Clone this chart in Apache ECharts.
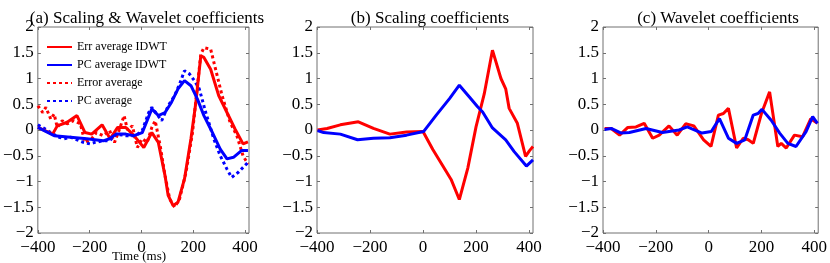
<!DOCTYPE html>
<html>
<head>
<meta charset="utf-8">
<script src="https://cdn.jsdelivr.net/npm/echarts@6/dist/echarts.min.js"></script>
<style>html,body{margin:0;padding:0;background:#fff}#c{width:830px;height:263px}</style>
</head>
<body>
<div id="c"></div>
<script>
// ---------- DATA ----------
const titles = ['(a) Scaling & Wavelet coefficients', '(b) Scaling coefficients', '(c) Wavelet coefficients'];
const legendNames = ['Err average IDWT', 'PC average IDWT', 'Error average', 'PC average'];
const xTicks = [-400, -200, 0, 200, 400];
const yTicks = [-2, -1.5, -1, -0.5, 0, 0.5, 1, 1.5, 2];
const xLabel = 'Time (ms)';

// Panel (a)
const aErrIdwtT = [-400,-343,-325,-287,-249,-218,-192,-152,-121,-92,-60,-29,9,40,65,91,103,122,141,166,191,210,229,241,267,298,330,361,392,411];
const aErrIdwtV = [0.05,-0.08,0.08,0.15,0.28,-0.05,-0.08,0.1,-0.17,0.05,0.05,-0.11,-0.34,-0.05,-0.24,-0.89,-1.27,-1.47,-1.40,-0.95,-0.17,0.54,1.44,1.41,1.18,0.67,0.34,0.02,-0.27,-0.23];
const aPcIdwtT = [-400,-337,-274,-211,-148,-123,-98,-60,-29,3,40,65,91,116,141,166,191,216,241,267,304,330,355,386,411];
const aPcIdwtV = [0.05,-0.11,-0.14,-0.17,-0.21,-0.17,-0.08,-0.08,-0.11,-0.05,0.41,0.28,0.34,0.54,0.8,0.96,0.86,0.6,0.28,0.02,-0.37,-0.56,-0.53,-0.40,-0.40];
const aErrAvgT = [-400,-381,-369,-350,-337,-325,-306,-287,-262,-236,-218,-192,-174,-148,-123,-104,-86,-67,-54,-35,-16,3,22,40,53,72,91,109,128,147,172,197,216,229,241,267,286,311,342,368,392,411];
const aErrAvgV = [0.47,0.34,0.44,0.21,0.31,0.05,0.18,0.12,0.18,0.12,-0.24,-0.17,-0.05,-0.11,-0.01,-0.24,0,0.28,0,0.08,-0.34,-0.17,-0.24,0.05,0.18,-0.3,-0.89,-1.34,-1.5,-1.34,-0.82,-0.05,0.86,1.47,1.6,1.57,1.18,0.67,0.15,-0.11,-0.5,-0.66];
const aPcAvgT = [-400,-381,-350,-318,-299,-274,-224,-199,-180,-148,-123,-98,-60,-22,3,28,40,59,78,103,128,147,166,185,204,223,248,279,304,330,348,374,399,411];
const aPcAvgV = [0.1,0.05,-0.05,-0.14,-0.17,-0.14,-0.24,-0.27,-0.24,-0.21,-0.21,-0.08,-0.11,-0.11,-0.01,0.34,0.44,0.31,0.18,0.47,0.67,0.89,1.15,1.09,0.96,0.8,0.34,-0.17,-0.5,-0.76,-0.92,-0.82,-0.69,-0.63];

// Panel (b)
const bErrT = [-398,-362,-312,-244,-187,-125,-62,0,37,75,106,137,169,200,231,262,294,312,325,356,387,402,415];
const bErrV = [0,0.03,0.1,0.16,0.03,-0.08,-0.04,-0.03,-0.38,-0.7,-0.96,-1.35,-0.74,0.06,0.7,1.55,1.0,0.8,0.42,0.13,-0.51,-0.4,-0.32];
const bPcT = [-398,-375,-312,-247,-187,-125,-62,2,50,100,137,175,206,225,262,312,344,390,415];
const bPcV = [-0.01,-0.05,-0.08,-0.19,-0.16,-0.15,-0.1,-0.03,0.29,0.61,0.87,0.64,0.45,0.35,0.04,-0.19,-0.42,-0.7,-0.58];

// Panel (c)
const cErrT = [-394,-369,-337,-306,-275,-244,-212,-187,-150,-119,-87,-56,-19,9,37,56,75,106,131,150,169,200,231,262,275,294,325,356,387,412];
const cErrV = [0.03,0.03,-0.1,0.05,0.06,0.13,-0.16,-0.1,0.08,-0.1,0.12,0.08,-0.19,-0.32,0.29,0.32,0.42,-0.35,-0.16,-0.19,-0.26,0.32,0.74,-0.32,-0.26,-0.35,-0.1,-0.13,0.22,0.13];
const cPcT = [-394,-369,-331,-300,-237,-175,-112,-81,-25,10,41,75,106,137,169,187,202,237,269,300,331,369,394,412];
const cPcV = [0.01,0.03,-0.06,-0.05,0.03,-0.05,0,0.06,-0.06,-0.03,0.22,-0.16,-0.26,-0.19,0.29,0.32,0.4,0.19,-0.06,-0.26,-0.32,-0.03,0.26,0.13];

// ---------- CHART ----------
const zip = (t, v) => t.map((x, i) => [x, v[i]]);
const RED = '#ff0000', BLUE = '#0000ff';
const FRAME = '#707070';
const FONT = '"Liberation Serif", "DejaVu Serif", serif';
const grids = [
  {left: 33, top: 27, width: 216, height: 206},
  {left: 317, top: 27, width: 216, height: 206},
  {left: 603, top: 27, width: 216, height: 206}
];
const titleX = [142, 425, 713];
const fmt = v => (v < 0 ? '\u2212' + Math.abs(v) : String(v));
const tick = {show: true, inside: true, length: 3, lineStyle: {color: FRAME, width: 1}};

const chart = echarts.init(document.getElementById('c'), null, {renderer: 'canvas'});
const xAxes = [], yAxes = [];
['bottom', 'top'].forEach(pos => grids.forEach((g, i) => xAxes.push({
  type: 'value', gridIndex: i, position: pos, min: xTicks[0], max: 415, interval: 200,
  axisLine: {show: false, onZero: false}, splitLine: {show: false},
  axisTick: Object.assign({customValues: xTicks}, tick),
  axisLabel: pos === 'bottom'
    ? {color: '#000', fontFamily: FONT, fontSize: 17, margin: 6, customValues: xTicks, formatter: fmt}
    : {show: false}
})));
['left', 'right'].forEach(pos => grids.forEach((g, i) => yAxes.push({
  type: 'value', gridIndex: i, position: pos, min: yTicks[0], max: yTicks[yTicks.length - 1], interval: 0.5,
  axisLine: {show: false, onZero: false}, splitLine: {show: false},
  axisTick: tick,
  axisLabel: pos === 'left'
    ? {color: '#000', fontFamily: FONT, fontSize: 17, margin: 4, formatter: fmt}
    : {show: false}
})));
const solid = (name, data, color, xi) => ({
  name, type: 'line', data, xAxisIndex: xi, yAxisIndex: xi, symbol: 'none',
  lineStyle: {color, width: 3}, itemStyle: {color}, z: 3, animation: false
});
const dotted = (name, data, color, xi) => ({
  name, type: 'line', data, xAxisIndex: xi, yAxisIndex: xi, symbol: 'none',
  lineStyle: {color, width: 3, type: [3, 3], cap: 'butt'}, itemStyle: {color}, z: 2, animation: false
});

chart.setOption({
  animation: false,
  backgroundColor: '#fff',
  title: titles.map((t, i) => ({
    text: t, left: titleX[i], top: 5, textAlign: 'center',
    textStyle: {fontFamily: FONT, fontSize: 17, fontWeight: 'normal', color: '#000'}
  })),
  grid: grids.map(g => Object.assign({show: true, borderColor: FRAME, borderWidth: 1, backgroundColor: 'transparent'}, g)),
  xAxis: xAxes,
  yAxis: yAxes,
  legend: {
    show: true, orient: 'vertical', left: 41, top: 36,
    itemWidth: 25, itemHeight: 10, itemGap: 6,
    data: legendNames,
    itemStyle: {color: 'rgba(0,0,0,0)', borderColor: 'rgba(0,0,0,0)', borderWidth: 0, opacity: 0},
    textStyle: {fontFamily: FONT, fontSize: 12, color: '#000'},
    selectedMode: false
  },
  graphic: [{
    type: 'text', x: 139, y: 257,
    style: {text: xLabel, font: '13px ' + FONT, fill: '#000', align: 'center', verticalAlign: 'middle'}
  }],
  series: [
    dotted(legendNames[2], zip(aErrAvgT, aErrAvgV), RED, 0),
    dotted(legendNames[3], zip(aPcAvgT, aPcAvgV), BLUE, 0),
    solid(legendNames[0], zip(aErrIdwtT, aErrIdwtV), RED, 0),
    solid(legendNames[1], zip(aPcIdwtT, aPcIdwtV), BLUE, 0),
    solid('b-err', zip(bErrT, bErrV), RED, 1),
    solid('b-pc', zip(bPcT, bPcV), BLUE, 1),
    solid('c-err', zip(cErrT, cErrV), RED, 2),
    solid('c-pc', zip(cPcT, cPcV), BLUE, 2)
  ]
});
</script>
</body>
</html>
